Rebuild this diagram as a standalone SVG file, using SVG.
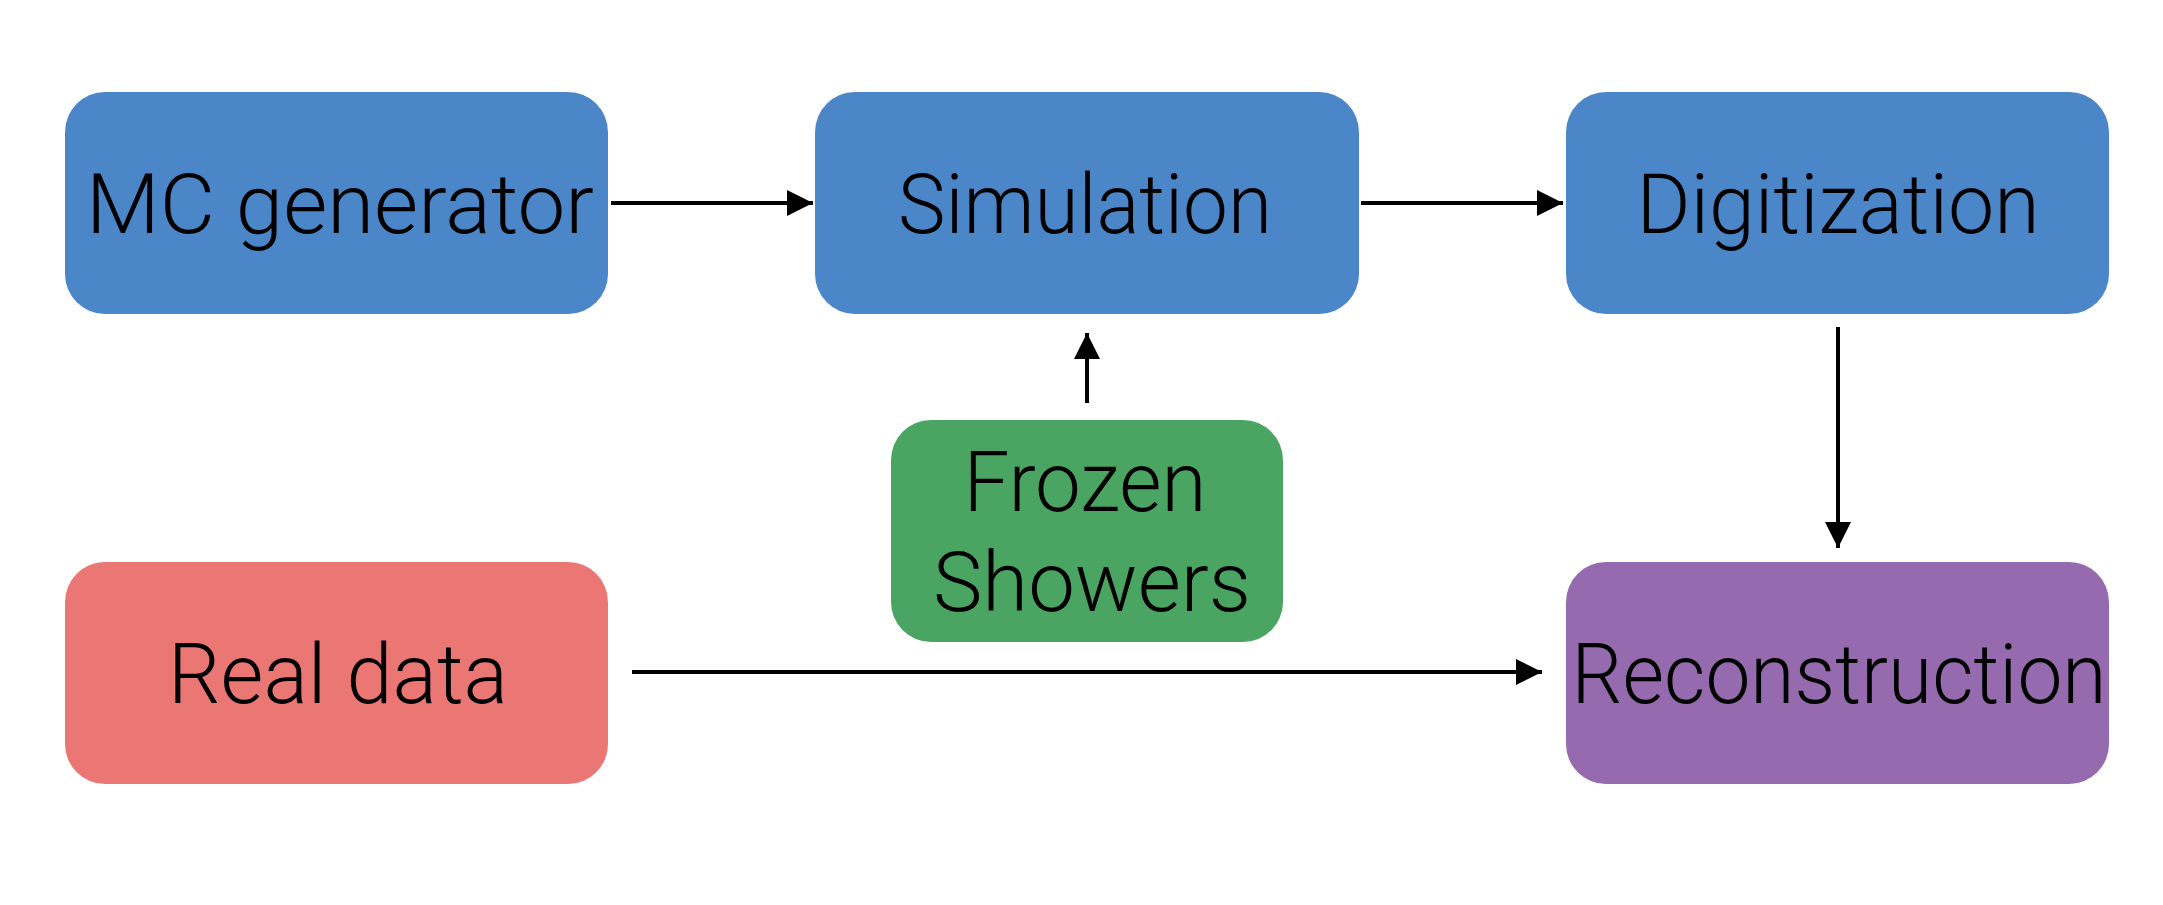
<svg xmlns="http://www.w3.org/2000/svg" width="2163" height="905" viewBox="0 0 2163 905">
<style>
.box{stroke:none}
.blue{fill:#4a86c8}
.green{fill:#4ba562}
.red{fill:#eb7775}
.purple{fill:#956aae}
.lbl{font-family:Roboto,"Liberation Sans",Arial,sans-serif;font-weight:300;font-size:84px;fill:#000;text-anchor:middle}
.conn{stroke:#000;stroke-width:4;fill:none}
</style>
<defs>
<marker id="ah" viewBox="0 0 26 26" refX="26" refY="13" markerWidth="26" markerHeight="26" markerUnits="userSpaceOnUse" orient="auto">
<path d="M0,0 L26,13 L0,26 Z" fill="#000"/>
</marker>
</defs>
<rect width="2163" height="905" fill="#fff"/>
<g id="mc-generator">
<rect class="box blue" x="65" y="92" width="543" height="222" rx="40"/>
<text class="lbl" x="340" y="233" textLength="508" lengthAdjust="spacingAndGlyphs">MC generator</text>
</g>
<g id="simulation">
<rect class="box blue" x="815" y="92" width="544" height="222" rx="40"/>
<text class="lbl" x="1085" y="233" textLength="374" lengthAdjust="spacingAndGlyphs">Simulation</text>
</g>
<g id="digitization">
<rect class="box blue" x="1566" y="92" width="543" height="222" rx="40"/>
<text class="lbl" x="1838" y="233" textLength="403" lengthAdjust="spacingAndGlyphs">Digitization</text>
</g>
<g id="frozen-showers">
<rect class="box green" x="891" y="420" width="392" height="222" rx="40"/>
<text class="lbl" x="1085" y="511" textLength="243" lengthAdjust="spacingAndGlyphs">Frozen</text>
<text class="lbl" x="1092" y="611" textLength="318" lengthAdjust="spacingAndGlyphs">Showers</text>
</g>
<g id="real-data">
<rect class="box red" x="65" y="562" width="543" height="222" rx="40"/>
<text class="lbl" x="338" y="703" textLength="340" lengthAdjust="spacingAndGlyphs">Real data</text>
</g>
<g id="reconstruction">
<rect class="box purple" x="1566" y="562" width="543" height="222" rx="40"/>
<text class="lbl" x="1839" y="703" textLength="535" lengthAdjust="spacingAndGlyphs">Reconstruction</text>
</g>
<g id="connectors">
<line class="conn" x1="611" y1="203" x2="813" y2="203" marker-end="url(#ah)"/>
<line class="conn" x1="1361" y1="203" x2="1563" y2="203" marker-end="url(#ah)"/>
<line class="conn" x1="1087" y1="403" x2="1087" y2="333" marker-end="url(#ah)"/>
<line class="conn" x1="1838" y1="327" x2="1838" y2="548" marker-end="url(#ah)"/>
<line class="conn" x1="632" y1="672" x2="1542" y2="672" marker-end="url(#ah)"/>
</g>
</svg>
